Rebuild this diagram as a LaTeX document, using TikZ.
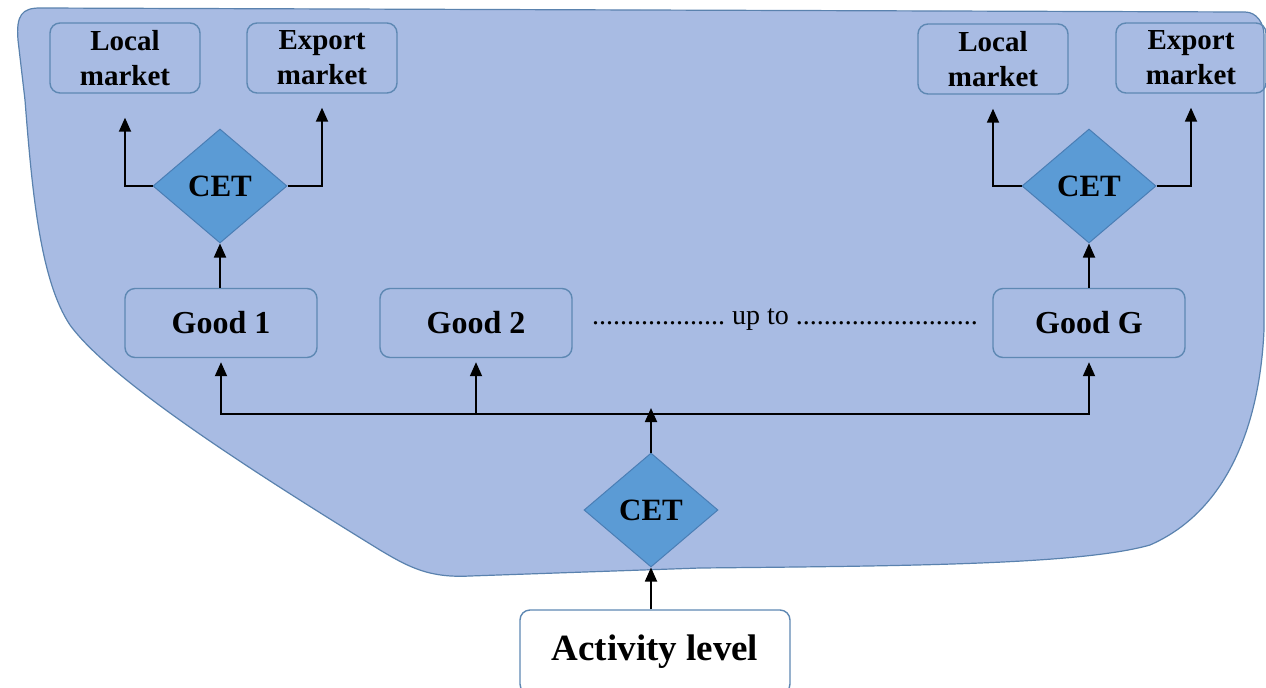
\documentclass[tikz,border=0pt]{standalone}
\usepackage{fontspec}
\setmainfont{Liberation Serif}
\usetikzlibrary{shapes.geometric, arrows.meta, positioning}
\definecolor{blobfill}{HTML}{A8BBE3}
\definecolor{blobline}{HTML}{5A82AE}
\definecolor{boxline}{HTML}{5E88B3}
\definecolor{cetfill}{HTML}{5B9BD5}
\definecolor{cetline}{HTML}{4A7EB5}

\begin{document}
\frenchspacing
\begin{tikzpicture}[
    x=0.5pt, y=-0.5pt,
    box/.style={rectangle, draw=boxline, line width=0.7pt, rounded corners=5pt, align=center, inner sep=0pt, minimum width=75pt, minimum height=35pt, font=\fontsize{14.5}{17.5}\selectfont\bfseries},
    good/.style={box, minimum width=96pt, minimum height=34.5pt, font=\fontsize{16}{19}\selectfont\bfseries},
    cet/.style={diamond, draw=cetline, fill=cetfill, line width=0.5pt, inner sep=0pt, minimum width=67pt, minimum height=57pt, font=\fontsize{15.5}{18}\selectfont\bfseries},
    arrow/.style={-{Triangle[width=6pt,length=7pt]}, line width=0.9pt}
]
\useasboundingbox (0,0) rectangle (1266,687);

% Background area
\draw[fill=blobfill, draw=blobline, line width=0.6pt]
    (40,8) -- (1245,12) to[out=0,in=90] (1264,35) -- (1264,330)
    .. controls (1260,420) and (1230,510) .. (1150,545)
    .. controls (1080,565) and (900,566) .. (700,568) -- (470,576)
    .. controls (430,578) and (410,568) .. (380,550)
    .. controls (250,470) and (110,380) .. (70,325)
    .. controls (40,280) and (32,190) .. (25,100) -- (18,40)
    .. controls (16,15) and (22,8) .. (40,8) -- cycle;

% Nodes
\node[box] (local1) at (125,58) {Local\\market};
\node[box] (export1) at (322,58) {Export\\market};
\node[box] (local2) at (993,59) {Local\\market};
\node[box] (export2) at (1191,58) {Export\\market};
\node[cet] (cet1) at (220,186) {CET};
\node[cet] (cet2) at (1089,186) {CET};
\node[good] (good1) at (221,323) {Good 1};
\node[good] (good2) at (476,323) {Good 2};
\node[good] (goodg) at (1089,323) {Good G};
\node[font=\fontsize{14}{17}\selectfont] (upto) at (785,320) {...................\ up to ..........................};
\node[cet] (cetmain) at (651,510) {CET};
\node[box, fill=white, minimum width=135pt, minimum height=42pt, font=\fontsize{18.5}{22}\selectfont\bfseries] (activity) at (655,652) {Activity level};
\coordinate (split) at (651,414);

% Arrows
\draw[arrow] (activity.north -| cetmain) -- (cetmain.south);
\draw[arrow] (cetmain.north) -- ([yshift=3pt]split);
\draw[line width=0.9pt] (good1.south |- split) -- (goodg.south |- split);
\draw[arrow, shorten >=2pt] (split) -| (good1.south);
\draw[arrow, shorten >=2pt] (split) -| (good2.south);
\draw[arrow, shorten >=2pt] (split) -| (goodg.south);
\draw[arrow] (good1.north -| cet1) -- (cet1.south);
\draw[arrow] (goodg) -- (cet2.south);
\draw[arrow, shorten >=12pt] (cet1.west) -| (local1.south);
\draw[arrow, shorten >=7pt] (cet1.east) -| (export1.south);
\draw[arrow, shorten >=7pt] (cet2.west) -| (local2.south);
\draw[arrow, shorten >=7pt] (cet2.east) -| (export2.south);

\end{tikzpicture}
\end{document}
